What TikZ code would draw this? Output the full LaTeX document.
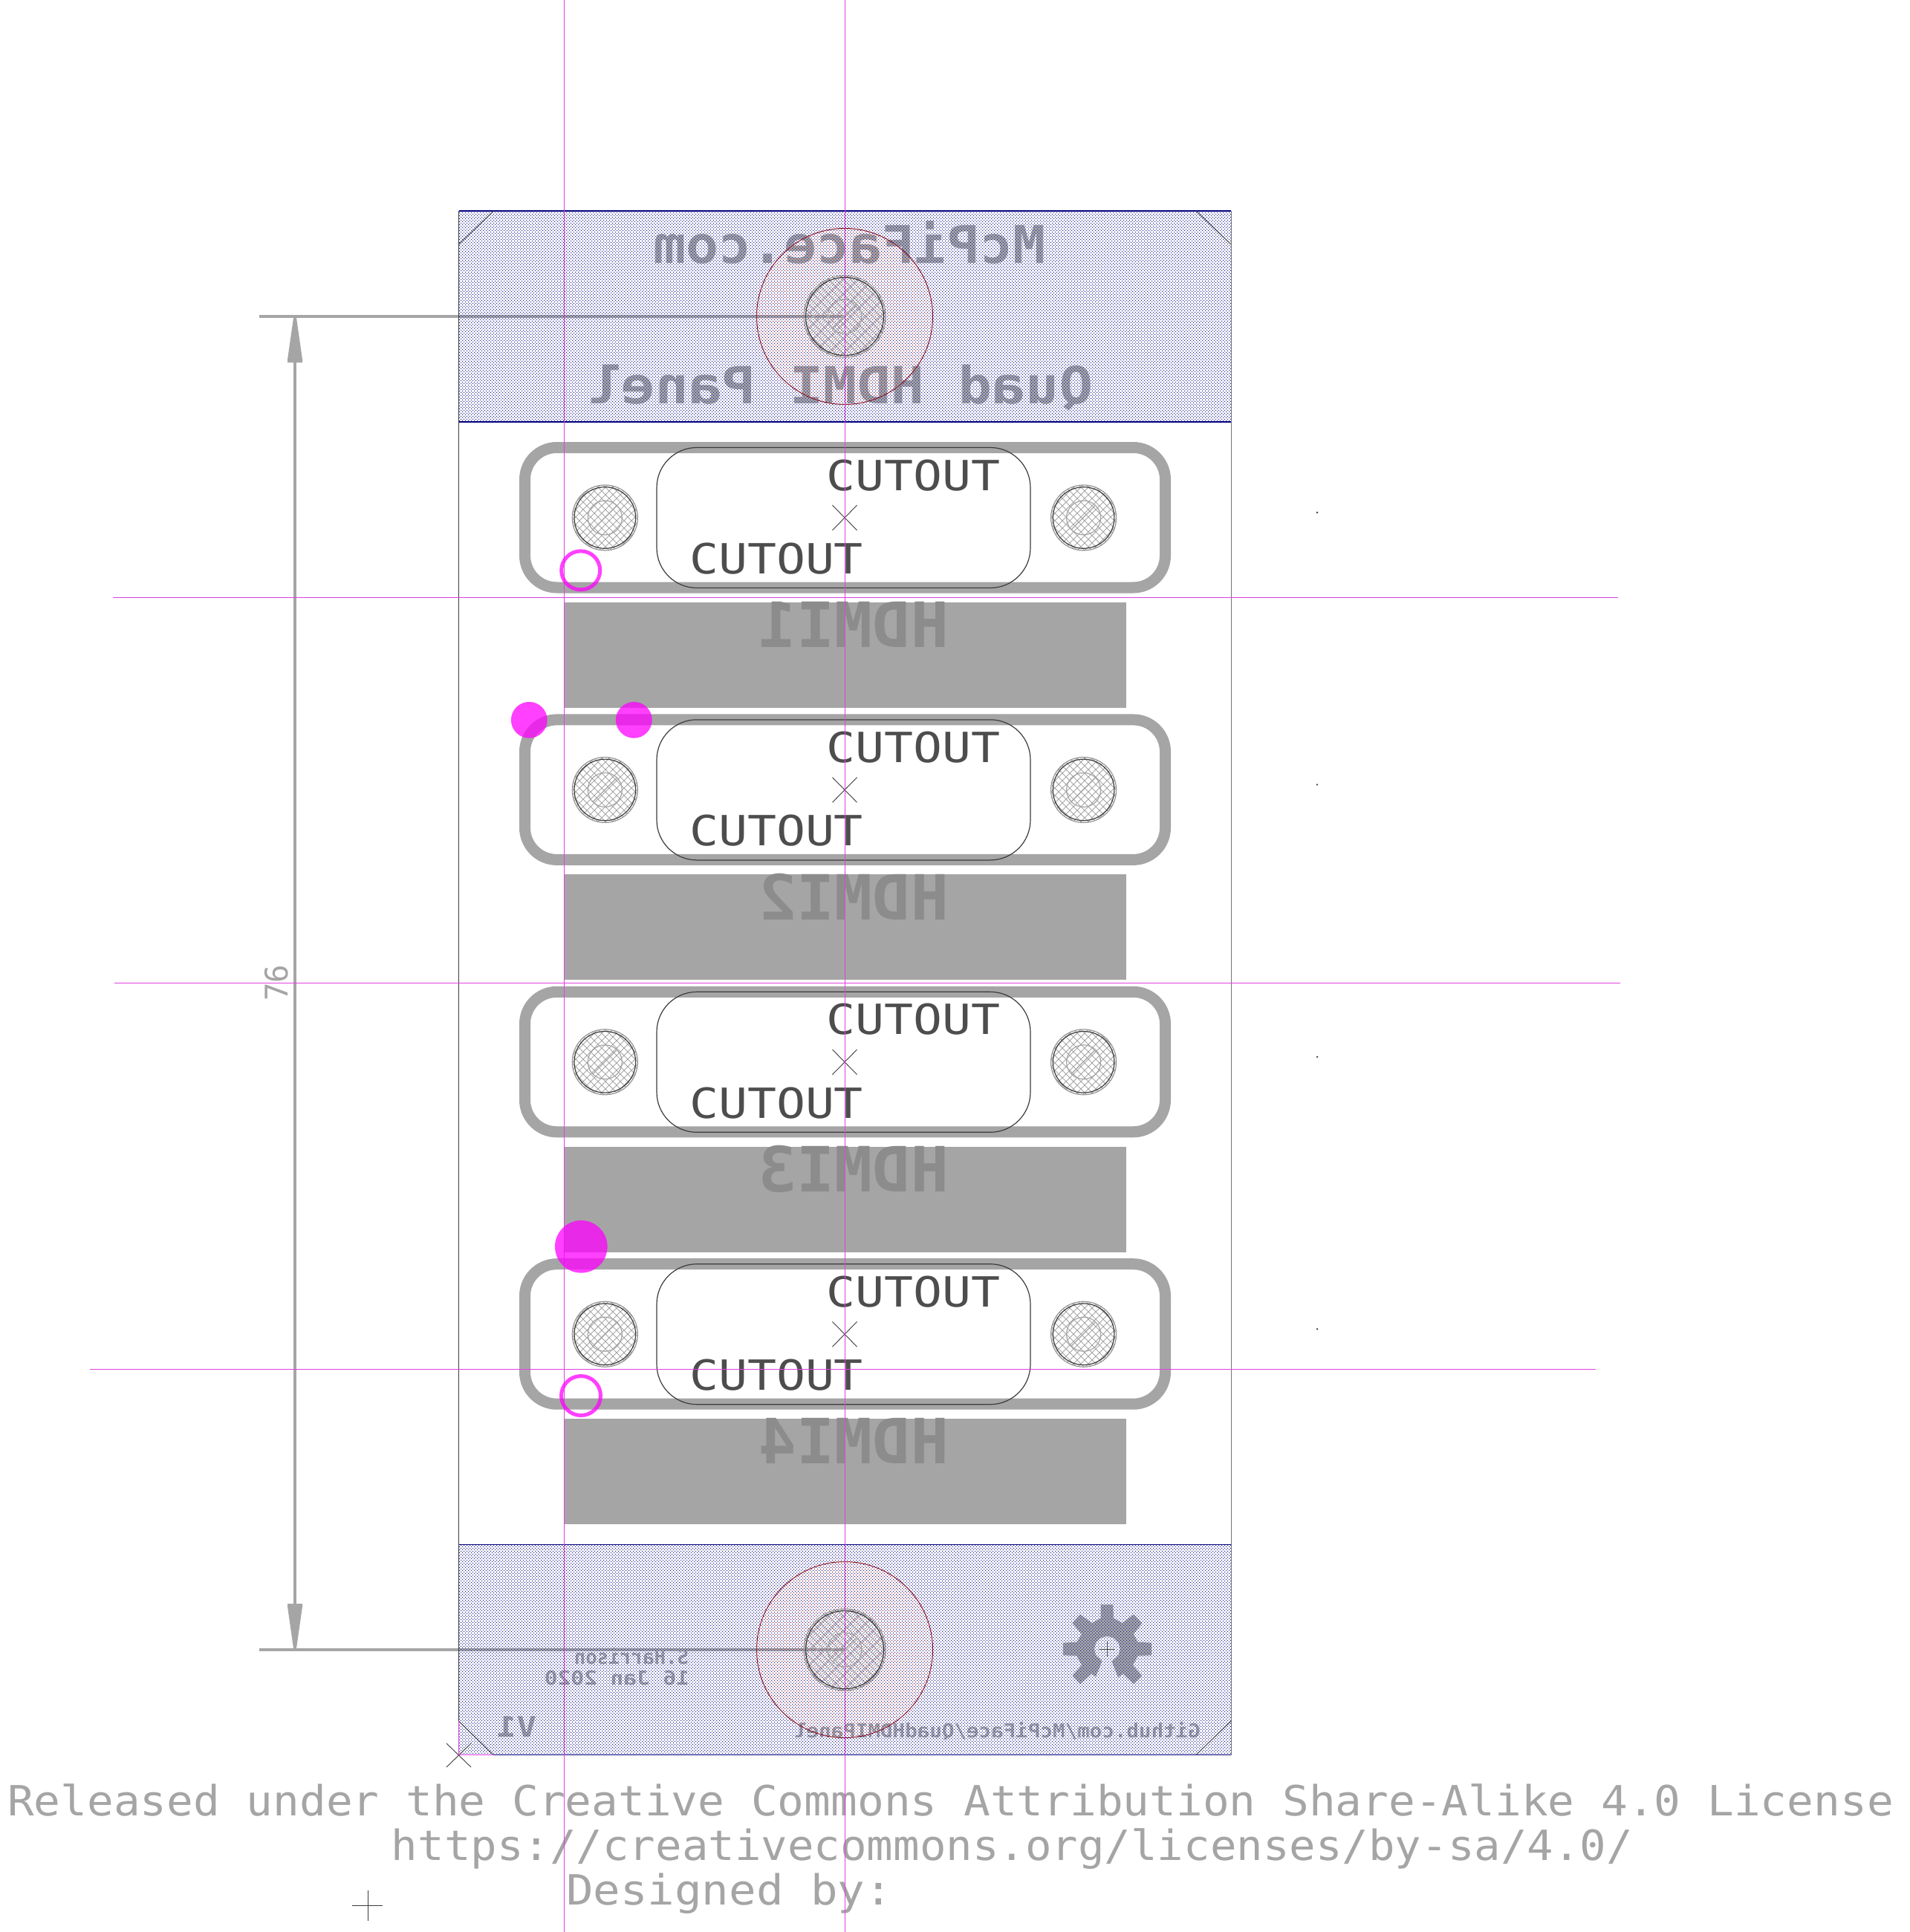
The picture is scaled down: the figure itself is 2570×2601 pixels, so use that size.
\documentclass[tikz,border=0pt]{standalone}
\usepackage{graphicx}
\usepackage{fontspec}
\setmonofont{DejaVu Sans Mono}
\usetikzlibrary{patterns}
\definecolor{silk}{HTML}{A5A5A5}
\definecolor{silkdk}{HTML}{8C8C8C}
\definecolor{cuttxt}{HTML}{4D4D4D}
\definecolor{edge}{HTML}{3C3C3C}
\definecolor{guide}{HTML}{E040E0}
\definecolor{spotcol}{RGB}{255,0,255}
\definecolor{navyline}{HTML}{000080}
\definecolor{dotblue}{HTML}{1A1A90}
\definecolor{dotred}{HTML}{8A1030}
\definecolor{ringred}{HTML}{8B1A2A}
\pgfdeclarepatternformonly{bluedots}{\pgfqpoint{-0.1pt}{-0.1pt}}{\pgfqpoint{4.1pt}{4.1pt}}{\pgfqpoint{4pt}{4pt}}{%
  \pgfpathrectangle{\pgfqpoint{0pt}{0pt}}{\pgfqpoint{1.1pt}{1.1pt}}%
  \pgfpathrectangle{\pgfqpoint{2pt}{2pt}}{\pgfqpoint{1.1pt}{1.1pt}}%
  \pgfusepath{fill}}
\pgfdeclarepatternformonly{reddots}{\pgfqpoint{-0.1pt}{-0.1pt}}{\pgfqpoint{4.1pt}{4.1pt}}{\pgfqpoint{4pt}{4pt}}{%
  \pgfpathrectangle{\pgfqpoint{0pt}{0pt}}{\pgfqpoint{1.1pt}{1.1pt}}%
  \pgfusepath{fill}}
\pgfdeclarepatternformonly{holehatch}{\pgfqpoint{-0.5pt}{-0.5pt}}{\pgfqpoint{10.5pt}{10.5pt}}{\pgfqpoint{10pt}{10pt}}{%
  \pgfsetlinewidth{0.9pt}%
  \pgfpathmoveto{\pgfqpoint{0pt}{0pt}}\pgfpathlineto{\pgfqpoint{10pt}{10pt}}%
  \pgfpathmoveto{\pgfqpoint{0pt}{10pt}}\pgfpathlineto{\pgfqpoint{10pt}{0pt}}%
  \pgfusepath{stroke}}
\tikzset{
  txt/.style={inner sep=0pt,outer sep=0pt,anchor=base,font=\ttfamily},
  boldtxt/.style={txt,font=\ttfamily\bfseries},
  guideline/.style={draw=guide,line width=1pt},
  boardedge/.style={draw=edge,line width=1pt},
  tickline/.style={draw=edge,line width=0.9pt},
  dimline/.style={draw=silk,line width=4pt},
  frameline/.style={draw=silk,line width=15pt,rounded corners=43pt},
  cutline/.style={draw=edge,line width=1.2pt,rounded corners=54pt},
  boardfill/.style={pattern=bluedots,pattern color=dotblue},
  spot/.style={fill=spotcol,fill opacity=.75,draw=none},
  ringmark/.style={draw=spotcol,draw opacity=.75,line width=5pt},
}
% name, x-left, x-right, baseline, size, style, text
\newcommand{\lbl}[7]{\node[#6] (#1) at ({(#2+#3)/2},#4) {\fontsize{#5pt}{#5pt}\selectfont\resizebox{\dimexpr#3pt-#2pt\relax}{\height}{#7}};}
\newcommand{\mlbl}[7]{\node[#6] (#1) at ({(#2+#3)/2},#4) {\fontsize{#5pt}{#5pt}\selectfont\reflectbox{\resizebox{\dimexpr#3pt-#2pt\relax}{\height}{#7}}};}
\newcommand{\screwhole}[4]{% x y outer-r black-r
  \fill[pattern=holehatch,pattern color=silk] (#1,#2) circle (#3);
  \draw[draw=silk!90!black,line width=1.2pt] (#1,#2) circle (#3);
  \draw[draw=edge,line width=1.2pt] (#1,#2) circle (#4);
  \draw[draw=silk,line width=1.2pt] (#1,#2) circle (23);
}
\begin{document}
\begin{tikzpicture}[x=1pt,y=-1pt]
\useasboundingbox (0,0) rectangle (2570,2601);
\fill[white] (0,0) rectangle (2570,2601);

% grey HDMI bars, mirrored labels, keepout frames
\foreach \k/\n in {0/1,1/2,2/3,3/4}{
  \pgfmathsetmacro{\dy}{366.4*\k}
  \fill[silk] (759,{811+\dy}) rectangle (1516,{953+\dy});
  \mlbl{hdmi\n}{1021}{1277}{{871.7+\dy}}{84}{boldtxt,text=silkdk}{HDMI\n}
  \draw[frameline] (706.5,{602.5+\dy}) rectangle (1568.5,{791+\dy});
}
\draw[dimline] (349,426) -- (1137,426);
\draw[dimline] (349,2221) -- (1137,2221);
\draw[dimline] (397,470) -- (397,2177);
\fill[silk] (395,428) -- (399,428) -- (407,484) -- (407,488) -- (387,488) -- (387,484) -- cycle;
\fill[silk] (395,2219) -- (399,2219) -- (407,2163) -- (407,2159) -- (387,2159) -- (387,2163) -- cycle;
\node[txt,text=silk,rotate=90,anchor=base] (dimvalue) at (387,1323) {\fontsize{42pt}{42pt}\selectfont\resizebox{49pt}{\height}{76}};

% silkscreen on the two panel strips
\mlbl{sitename}{880}{1407}{354}{70}{boldtxt,text=silk}{McPiFace.com}
\mlbl{title}{791}{1471}{543.6}{69}{boldtxt,text=silk}{Quad HDMI Panel}
\mlbl{author}{773}{927}{2240}{27}{boldtxt,text=silk}{S.Harrison}
\mlbl{datestamp}{733}{928}{2268.3}{26}{boldtxt,text=silk}{16 Jan 2020}
\mlbl{version}{669}{722}{2338.8}{38}{boldtxt,text=silk}{V1}
\mlbl{repo}{1069}{1616}{2339.3}{26}{boldtxt,text=silk}{Github.com/McPiFace/QuadHDMIPanel}
\begin{scope}[xshift=1380pt,yshift=-2120pt,x=0.3333pt,y=-0.3333pt]
\fill[silk] (305,120) -- (355,120) -- (357,175) -- (392,195) -- (438,160) -- (472,195) -- (438,240) -- (455,272) -- (510,275) -- (510,325) -- (455,328) -- (435,365) -- (472,408) -- (438,442) -- (395,400) -- (375,415) -- (350,350) -- (353,347) -- (376,326) -- (383,300) -- (376,274) -- (357,255) -- (331,248) -- (305,255) -- (286,274) -- (279,300) -- (286,326) -- (309,347) -- (310,350) -- (285,412) -- (268,400) -- (222,442) -- (190,408) -- (228,365) -- (208,328) -- (153,325) -- (153,275) -- (208,272) -- (228,240) -- (190,195) -- (222,160) -- (270,195) -- (305,175) -- cycle;
\end{scope}

% dotted copper strips
\fill[boardfill] (617.5,284) rectangle (1657,568);
\fill[boardfill] (617.5,2079.5) rectangle (1657,2362.5);
\fill[pattern=reddots,pattern color=dotred] (1137,426) circle (118.5);
\fill[pattern=reddots,pattern color=dotred] (1137,2221) circle (118.5);
\draw[draw=navyline,line width=1.2pt] (617.5,284) -- (1657,284);
\draw[draw=navyline,line width=1.2pt] (617.5,568) -- (1657,568);
\draw[draw=navyline,line width=1.2pt] (617.5,2079.5) -- (1657,2079.5);
\draw[draw=navyline,line width=1.2pt] (664,2362.5) -- (1657,2362.5);
\draw[draw=ringred,line width=1pt] (1137,426) circle (118.5);
\draw[draw=ringred,line width=1pt] (1137,2221) circle (118.5);

% board edges and corner chamfers
\draw[boardedge] (617.5,284) -- (617.5,2317);
\draw[draw=edge!70!white,line width=1pt] (1657,284) -- (1657,2362.5);
\draw[tickline] (664.5,284) -- (617.5,329);
\draw[tickline] (1610,284) -- (1657,329);
\draw[tickline] (617.5,2317) -- (664,2362.5);
\draw[tickline] (1610,2362.5) -- (1657,2317);
\draw[tickline] (601,2347) -- (634,2379);
\draw[tickline] (601,2379) -- (634,2347);
\draw[guideline] (617.5,2317) -- (617.5,2362.5) -- (664,2362.5);

% mounting holes on the strips
\screwhole{1137}{426}{55}{52.5}
\screwhole{1137}{2221}{55}{52.5}

% HDMI cutouts
\foreach \k/\n in {0/1,1/2,2/3,3/4}{
  \pgfmathsetmacro{\dy}{366.4*\k}
  \pgfmathsetmacro{\cy}{697+\dy}
  \draw[cutline] (884,{602.5+\dy}) rectangle (1387,{791.5+\dy});
  \lbl{cutupper\n}{1112}{1346}{{660+\dy}}{56}{txt,text=cuttxt}{CUTOUT}
  \lbl{cutlower\n}{928}{1162}{{772.5+\dy}}{56}{txt,text=cuttxt}{CUTOUT}
  \draw[tickline] (1120.5,{\cy-16.8}) -- (1153.5,{\cy+16.8});
  \draw[tickline] (1120.5,{\cy+16.8}) -- (1153.5,{\cy-16.8});
  \screwhole{814.3}{\cy}{44}{41.3}
  \draw[draw=silk,line width=1.2pt] (798,{\cy+16}) -- (830,{\cy-16});
  \screwhole{1458.6}{\cy}{44}{41.3}
  \draw[draw=silk,line width=1.2pt] (1442,{\cy+16}) -- (1474,{\cy-16});
  \fill[edge] (1773,{690+\dy}) circle (1.3);
}
\draw[draw=silk,line width=1.2pt] (1121,442) -- (1153,410);
\draw[draw=silk,line width=1.2pt] (1121,2237) -- (1153,2205);

% small crosses
\draw[tickline] (1479.3,2220) -- (1501.3,2220);
\draw[tickline] (1490.3,2209) -- (1490.3,2231);
\draw[tickline] (474,2565) -- (515,2565);
\draw[tickline] (495,2545) -- (495,2586);

% licence text
\lbl{licence}{10}{2549}{2444}{56}{txt,text=silk}{Released under the Creative Commons Attribution Share-Alike 4.0 License}
\lbl{licenceurl}{527}{2198}{2504}{56}{txt,text=silk}{https://creativecommons.org/licenses/by-sa/4.0/}
\lbl{designer}{762}{1201}{2564}{56}{txt,text=silk}{Designed by:}

% construction guides
\draw[guideline] (759.5,0) -- (759.5,2601);
\draw[guideline] (1137.5,0) -- (1137.5,2601);
\draw[guideline] (152,804.5) -- (2178,804.5);
\draw[guideline] (154,1323.5) -- (2181,1323.5);
\draw[guideline] (121,1843.5) -- (2148,1843.5);

% fiducial spots and rings
\fill[spot] (712.3,969.3) circle (24.4);
\fill[spot] (853.3,969.3) circle (24.4);
\fill[spot] (782.3,1678.3) circle (35.3);
\draw[ringmark] (781.7,767.9) circle (26);
\draw[ringmark] (782,1879) circle (26.5);
\end{tikzpicture}
\end{document}
